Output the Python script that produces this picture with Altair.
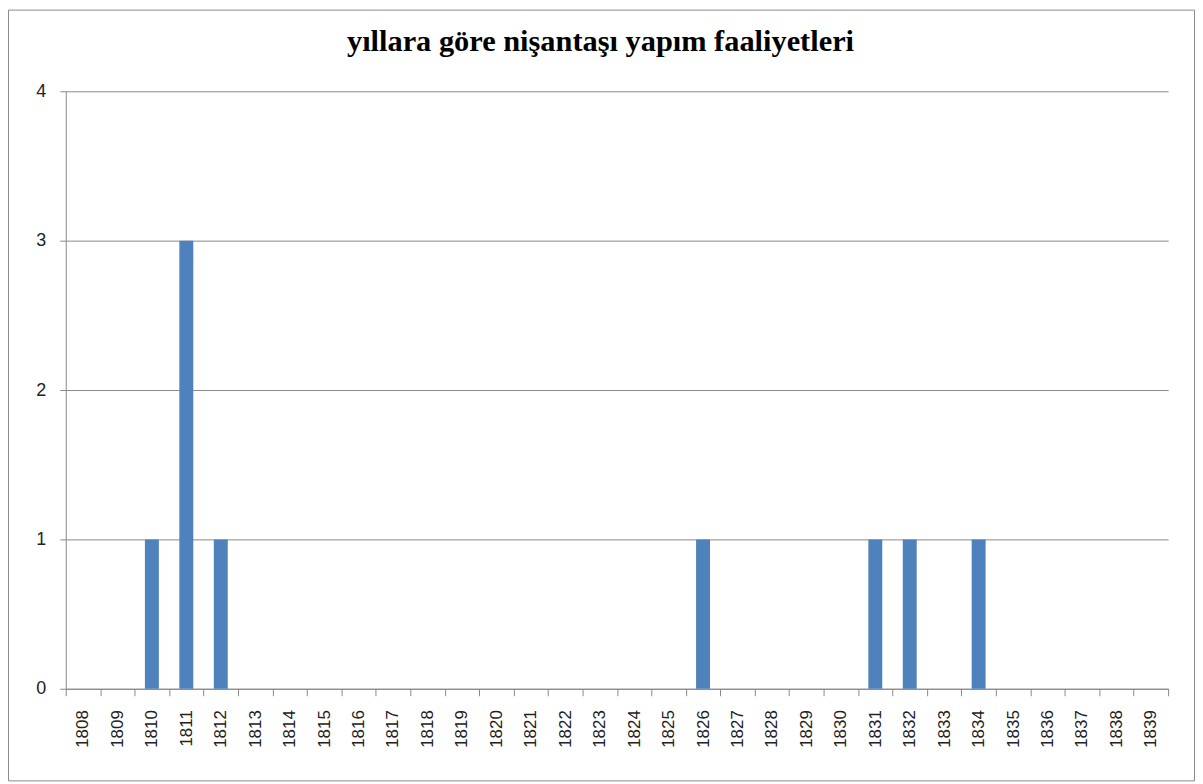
import altair as alt
import pandas as pd

years = [str(y) for y in range(1808, 1840)]
counts = [0, 0, 1, 3, 1, 0, 0, 0, 0, 0, 0, 0, 0, 0, 0, 0, 0, 0, 1, 0, 0, 0, 0, 1, 1, 0, 1, 0, 0, 0, 0, 0]
title_text = "yıllara göre nişantaşı yapım faaliyetleri"

df = pd.DataFrame({"year": years, "count": counts})

PW, PH = 1107, 600
GRAY = "#888888"

bars = alt.Chart(df).mark_bar(size=14, color="#4F81BD").encode(
    x=alt.X("year:N", sort=years,
            scale=alt.Scale(paddingInner=0, paddingOuter=0),
            axis=alt.Axis(title=None, labelAngle=-90, tickBand="extent",
                          tickSize=7, labelPadding=14, domainColor=GRAY,
                          tickColor=GRAY, labelFont="Liberation Sans",
                          labelFontSize=17, labelColor="#222222", grid=False)),
    y=alt.Y("count:Q", scale=alt.Scale(domain=[0, 4], nice=False),
            axis=alt.Axis(title=None, values=[0, 1, 2, 3, 4], format="d",
                          tickSize=6, labelPadding=14, domainColor=GRAY,
                          tickColor=GRAY, gridColor=GRAY, gridOpacity=1,
                          labelFont="Liberation Sans", labelFontSize=18,
                          labelColor="#222222")),
)

frame = alt.Chart(pd.DataFrame({"f": [0]})).mark_rect(
    fill=None, stroke="#8a8a8a", strokeWidth=1
).encode(
    x=alt.value(-57.5), x2=alt.value(1133.5),
    y=alt.value(-81.5), y2=alt.value(PH + 92.5),
)

title = alt.Chart(pd.DataFrame({"t": [title_text]})).mark_text(
    font="Liberation Serif", fontSize=30.5, fontWeight="bold", color="#000000",
    align="center", baseline="alphabetic"
).encode(
    text="t:N", x=alt.value(537), y=alt.value(-40.5),
)

chart = alt.layer(frame, bars, title).properties(
    width=PW, height=PH,
    autosize=alt.AutoSizeParams(type="none"),
    padding={"left": 58, "top": 82, "right": 27, "bottom": 93},
).configure_view(stroke=None)

chart.save("out.html", embed_options={"renderer": "svg", "actions": False})
